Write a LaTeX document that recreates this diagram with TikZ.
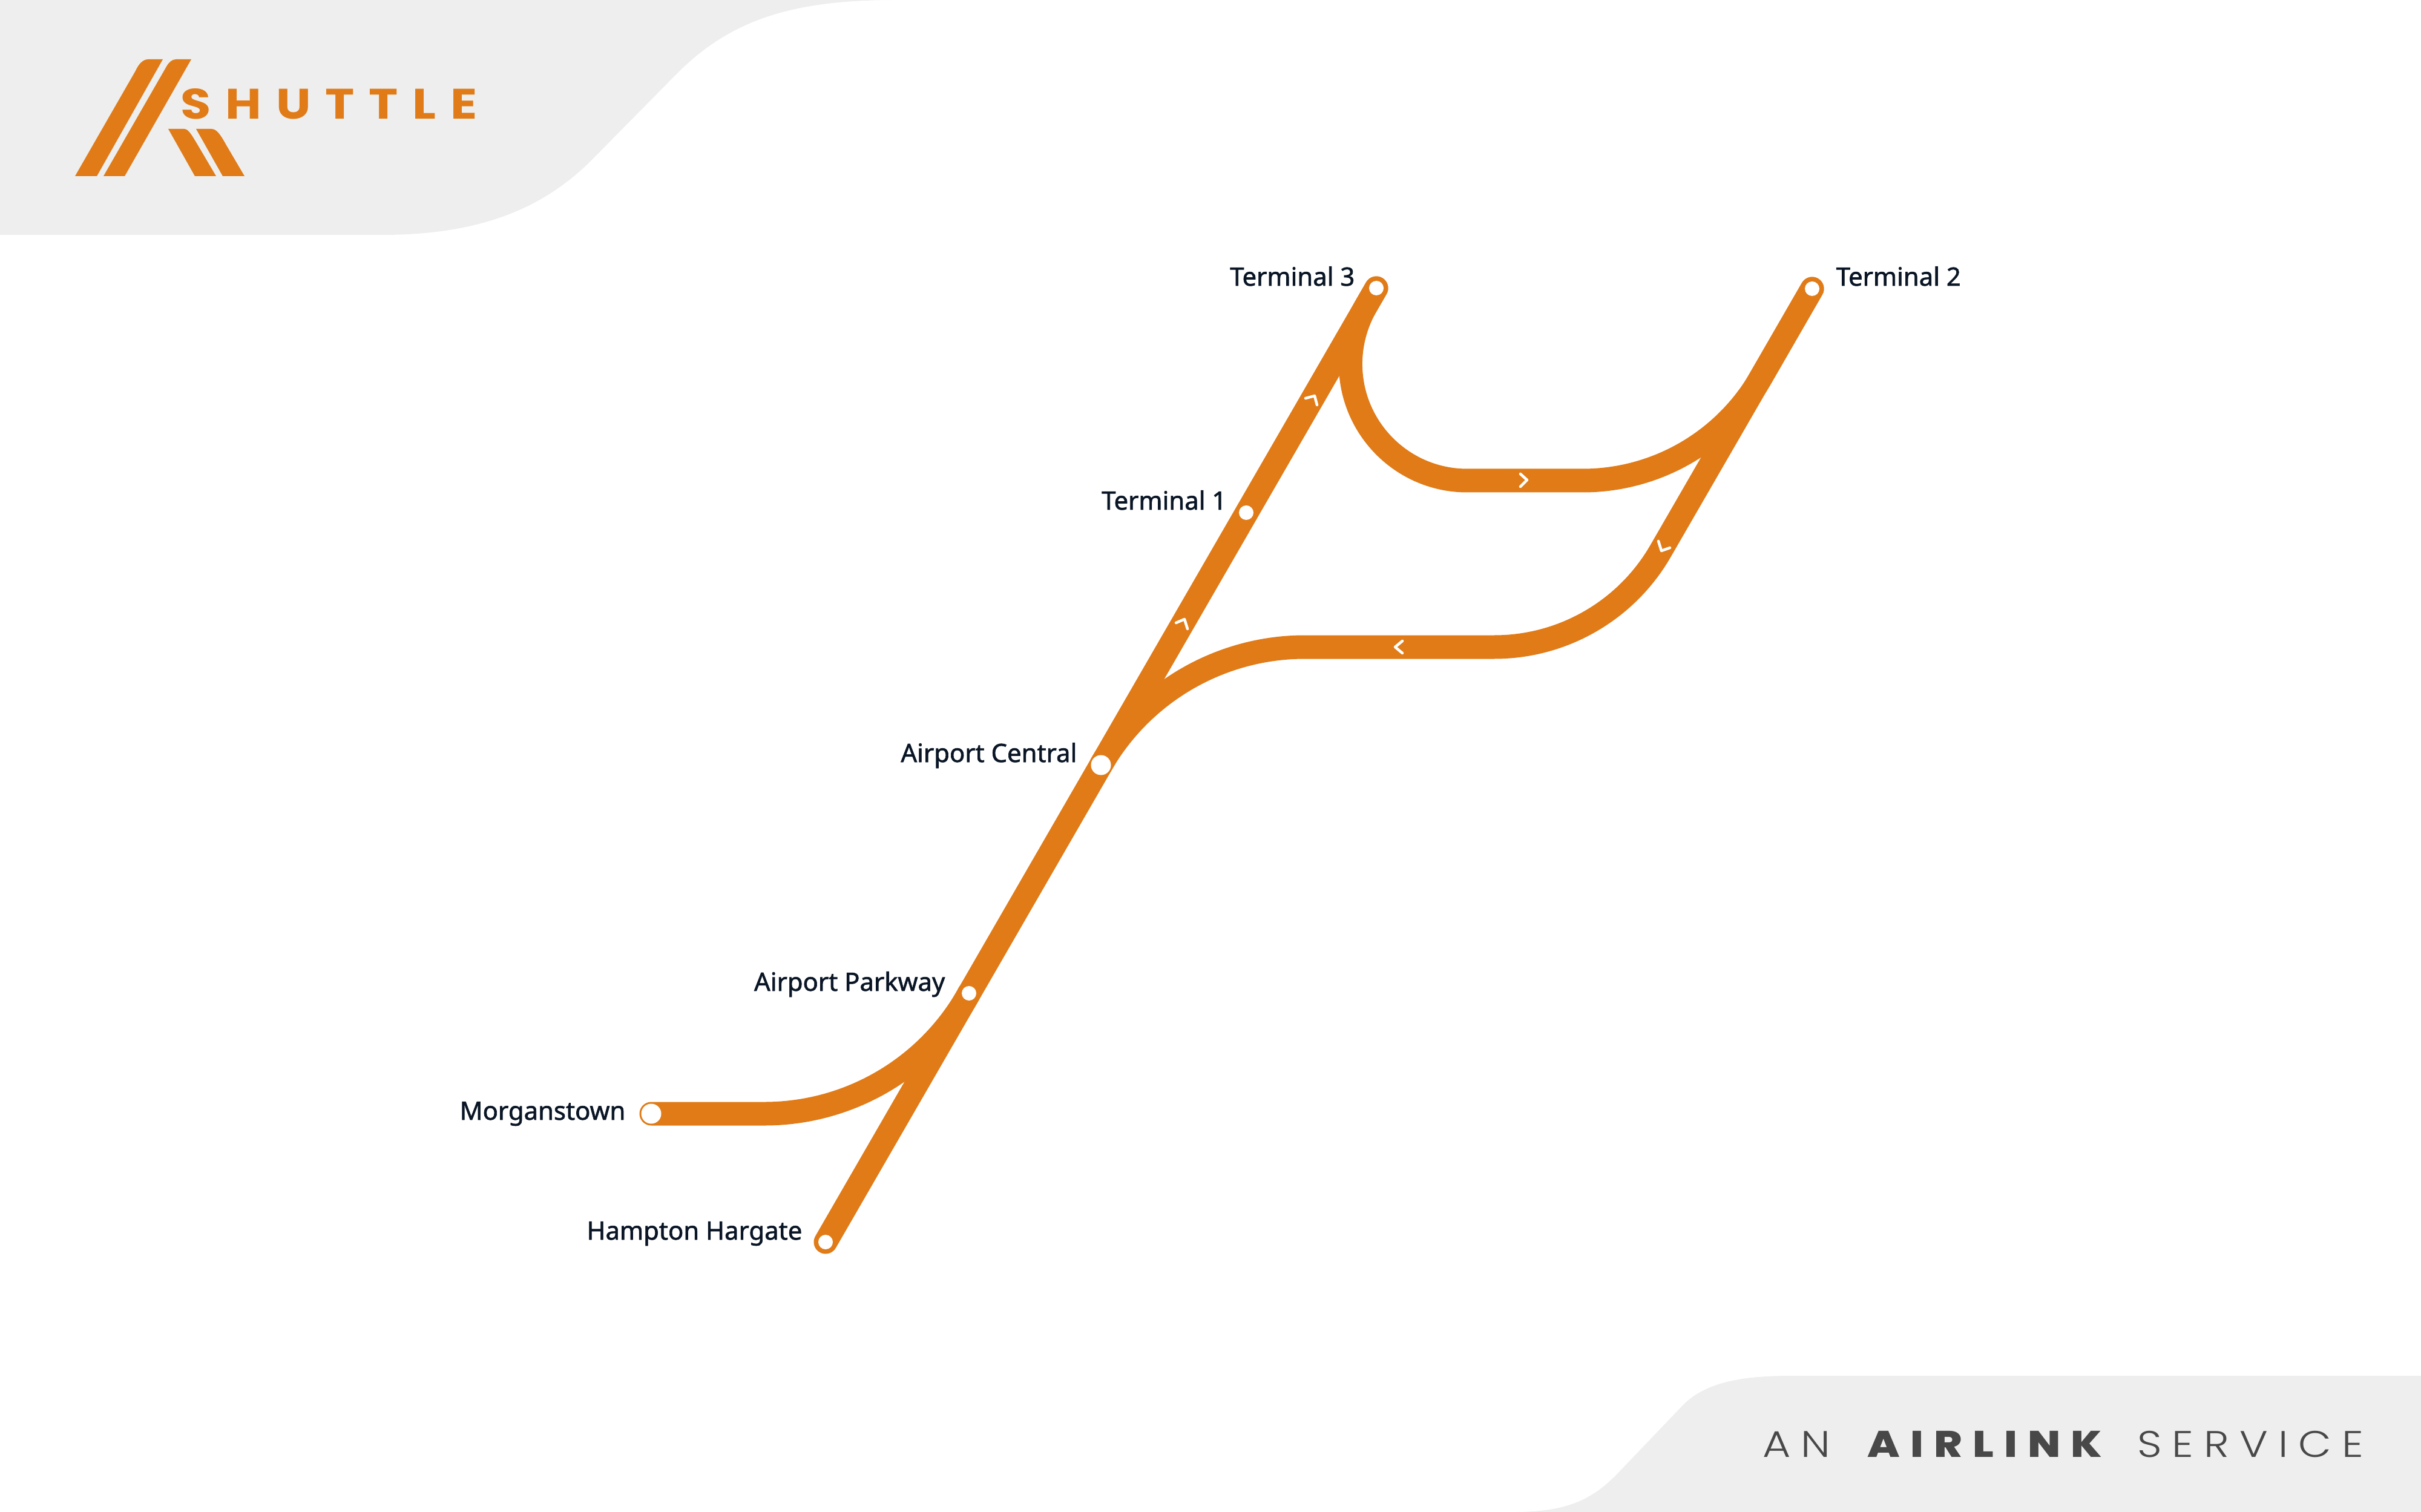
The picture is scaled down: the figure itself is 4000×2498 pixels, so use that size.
\documentclass[tikz,border=0pt]{standalone}
\usepackage{fontspec}
\setmainfont{Noto Sans}
\newfontfamily\labelfont[FakeBold=1.5]{Noto Sans}
\newfontfamily\logofont[LetterSpace=34,FakeStretch=1.16]{Poppins Bold}
\newfontfamily\footlight[LetterSpace=28,FakeStretch=1.16]{Poppins Light}
\newfontfamily\footbold[LetterSpace=28,FakeStretch=1.16]{Poppins ExtraBold}
\definecolor{route}{HTML}{E07B18}
\definecolor{panel}{HTML}{EEEEEE}
\definecolor{ink}{HTML}{0A1626}
\definecolor{foot}{HTML}{484848}
\pgfdeclarelayer{under}
\pgfsetlayers{under,main}
\tikzset{
  track/.style={draw=route,line width=39*0.01cm,line cap=round,line join=round},
  halt/.style={circle,fill=white,draw=none,inner sep=0pt,minimum size=24*0.01cm},
  hub/.style={circle,fill=white,draw=none,inner sep=0pt,minimum size=33*0.01cm},
  place/.style={anchor=base east,inner sep=0pt,text=ink,font=\labelfont\fontsize{11.9}{13}\selectfont},
  chev/.style={draw=white,line width=4.5*0.01cm,line cap=round,line join=round},
  panelfill/.style={fill=panel,draw=none},
  logoshape/.style={fill=route,draw=none}
}
\begin{document}
\begin{tikzpicture}[x=0.01cm,y=-0.01cm]
\useasboundingbox (0,0) rectangle (4000,2498);
% stations
\node[halt] (t3) at (2274,476) {};
\node[halt] (t2) at (2994,477) {};
\node[halt] (t1) at (2059,847) {};
\node[hub]  (ac) at (1819,1264) {};
\node[halt] (ap) at (1601,1641) {};
\node[hub]  (mg) at (1076,1840) {};
\node[halt] (hh) at (1364,2052) {};
% labels
\node[place] (lt3) at (2239,472) {Terminal 3};
\node[place,anchor=base west] (lt2) at (3033,472) {Terminal 2};
\node[place] (lt1) at (2027,842) {Terminal 1};
\node[place] (lac) at (1780,1259) {Airport Central};
\node[place] (lap) at (1562,1637) {Airport Parkway};
\node[place] (lmg) at (1034,1850) {Morganstown};
\node[place] (lhh) at (1326,2048) {Hampton Hargate};
% junction coordinates
\coordinate (a2) at (2424,794);
\coordinate (a3) at (2615,794);
\coordinate (a4) at (2909.4,624);
\coordinate (b1) at (2743.5,910.5);
\coordinate (b3) at (2156,1069);
\coordinate (c1) at (1263,1840);
\begin{pgfonlayer}{under}
\fill[panelfill] (0,0) -- (1480,0) .. controls (1310,0) and (1210,32) .. (1122,118) -- (974,268) .. controls (900,340) and (800,388) .. (633,388) -- (0,388) -- cycle;
\fill[panelfill] (4000,2498) -- (2500,2498) .. controls (2590,2498) and (2630,2477) .. (2670,2437) -- (2780,2322) .. controls (2820,2280) and (2890,2273) .. (2960,2273) -- (4000,2273) -- cycle;
\draw[track] (hh.center) -- (t3.center);
\draw[track] (t2.center) -- (b1) arc[start angle=30,end angle=90,radius=317] -- (b3) arc[start angle=270,end angle=210,radius=389] -- (ac.center);
\draw[track] (t2.center) -- (a4) arc[start angle=30,end angle=90,radius=340] -- (a2) arc[start angle=90,end angle=210,radius=192.6] -- (t3.center);
\draw[track] (mg.center) -- (c1) arc[start angle=90,end angle=30,radius=387] -- (ap.center);
\end{pgfonlayer}
% direction chevrons
\draw[chev] (2157,658) -- (2172,654) -- (2176,669);
\draw[chev] (1943,1029) -- (1957,1023) -- (1962,1039);
\draw[chev] (2740,894) -- (2745,910) -- (2759,905);
\draw[chev] (2512,783) -- (2523,793) -- (2512,804);
\draw[chev] (2317,1059) -- (2305,1069) -- (2317,1079);
% logo
\fill[logoshape] (124,291) -- (160,291) -- (269,98) -- (245,98) .. controls (236,98) and (229,106) .. (224,117) -- cycle;
\fill[logoshape] (171,291) -- (206,291) -- (316,98) -- (291,98) .. controls (284,98) and (279,103) .. (275,110) -- cycle;
\fill[logoshape] (322,291) -- (357,291) -- (324,235) .. controls (316,222) and (311,213) .. (304,213) -- (278,213) -- cycle;
\fill[logoshape] (368,291) -- (404,291) -- (374,240) .. controls (364,222) and (358,213) .. (349,213) -- (324,213) -- cycle;
\node[anchor=base west,inner sep=0pt,text=route,font=\logofont\fontsize{20}{22}\selectfont] (logo) at (298,197) {SHUTTLE};
\node[anchor=base east,inner sep=0pt,text=foot,font=\footlight\fontsize{17.4}{20}\selectfont] (tag) at (3906,2407) {AN\hspace{7pt} {\footbold AIRLINK}\hspace{6pt} SERVICE};
\end{tikzpicture}
\end{document}
